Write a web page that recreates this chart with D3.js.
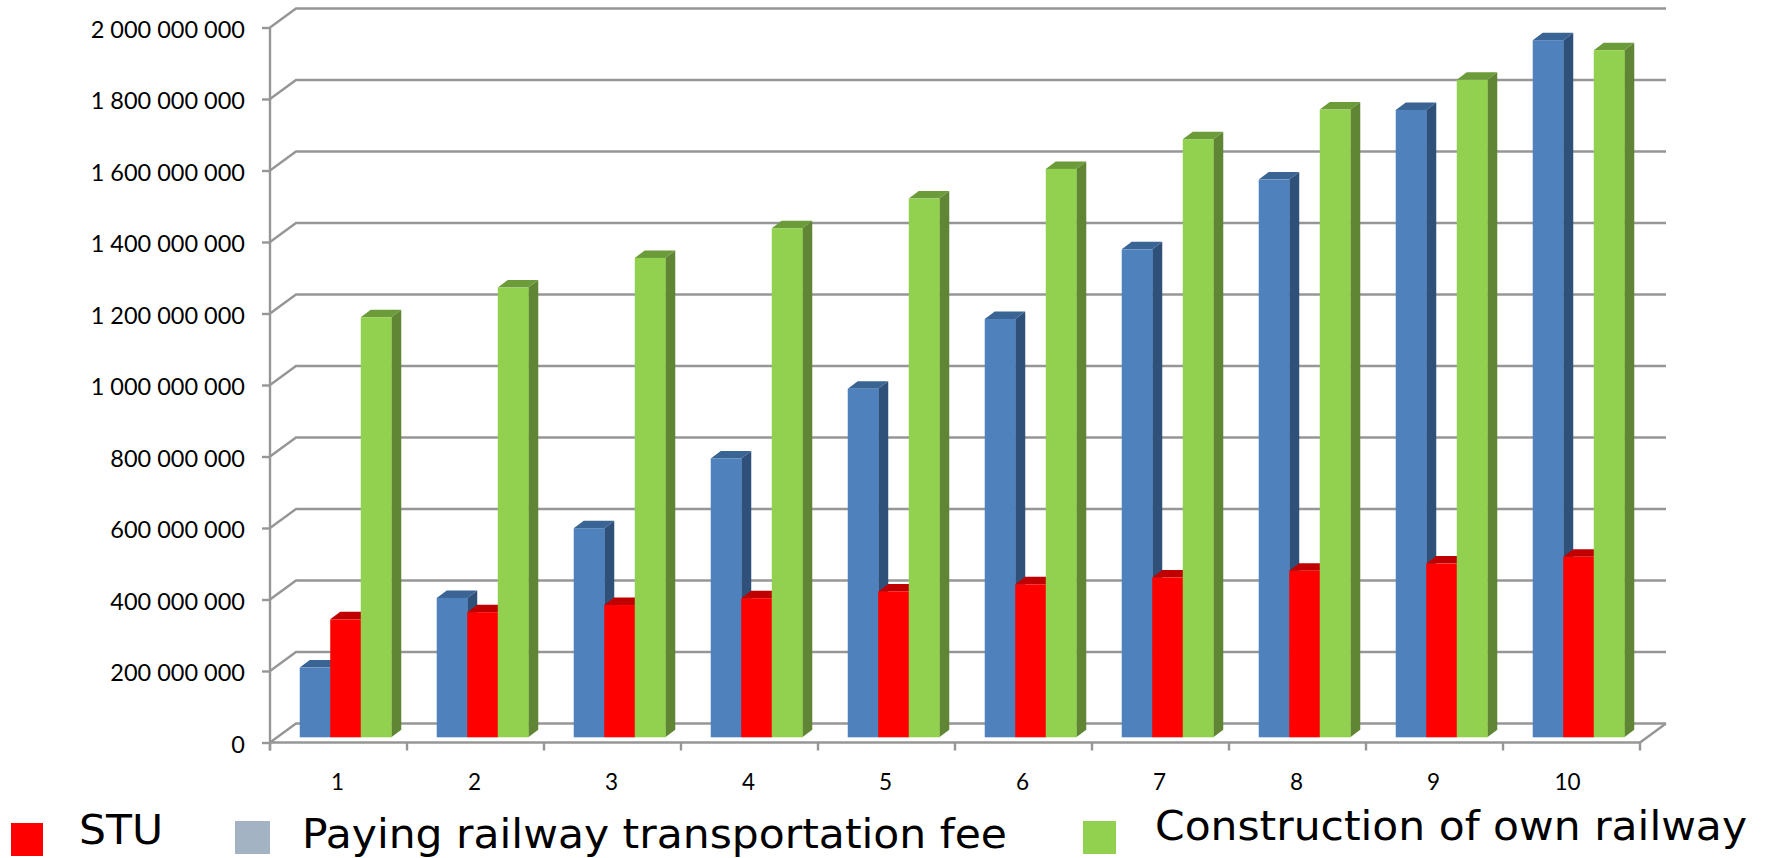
<!DOCTYPE html>
<html><head><meta charset="utf-8">
<script src="https://cdnjs.cloudflare.com/ajax/libs/d3/7.8.5/d3.min.js"></script>
<style>html,body{margin:0;padding:0;background:#fff;overflow:hidden}svg{display:block}</style>
</head><body><div id="c"></div>
<script>
const categories = ["1","2","3","4","5","6","7","8","9","10"];
const paying = [195e6,390e6,585e6,780e6,975e6,1170e6,1365e6,1560e6,1755e6,1950e6];
const stu = [330e6,350e6,370e6,389e6,408e6,428e6,447e6,466e6,486e6,505e6];
const construction = [1175e6,1258e6,1341e6,1424e6,1507e6,1590e6,1673e6,1756e6,1839e6,1922e6];
const yTicks = [0,2e8,4e8,6e8,8e8,1e9,1.2e9,1.4e9,1.6e9,1.8e9,2e9];
const seriesColors = [
  {values:paying, front:"#4F81BD", side:"#2F5078", top:"#3A6494"},
  {values:stu, front:"#FF0000", side:"#B80000", top:"#C00000"},
  {values:construction, front:"#92D050", side:"#5F8535", top:"#6C9B3A"}
];
const legendLabels = ["STU","Paying railway transportation fee","Construction of own railway"];
const legendColors = ["#FF0000","#A3B3C4","#92D050"];
const legendSwatchX = [11,235,1083];
const legendSwatchY = [823,821,821];
const legendSwatchW = [32,35,33];
const legendTextX = [79,302,1155];
const legendTextY = [844,848,840];
const legendTextLen = [84,705,592];

const W=1768,H=858, left=270,right=1640,y0=742.5,y2=27.5, depthX=26,depthY=-19;
const svg=d3.select("#c").append("svg").attr("width",W).attr("height",H);
const x=d3.scaleBand().domain(categories).range([left,right]);
const y=d3.scaleLinear().domain([0,2e9]).range([y0,y2]);
const grid="#969696";

const g=svg.append("g").attr("fill","none").attr("stroke",grid).attr("stroke-width",2.4);
g.selectAll("path.grid").data(yTicks).join("path").attr("class","grid")
  .attr("d",v=>`M${left},${y(v)}L${left+depthX},${y(v)+depthY}L${right+depthX},${y(v)+depthY}`);
g.append("path").attr("d",`M${right},${y0}L${right+depthX},${y0+depthY}`);

const barW=x.bandwidth()/4.49, offX=7, offY=5.2, dx=10, dy=7.5;
const series=d3.scaleBand().domain([0,1,2]).range([0,barW*3]);
const groups=svg.selectAll("g.cat").data(categories).join("g").attr("class","cat")
  .attr("transform",d=>`translate(${x(d)+(x.bandwidth()-barW*3)/2+offX},${-offY})`);
seriesColors.forEach((s,i)=>{
  const b=groups.append("g").datum((d,j)=>s.values[j]);
  const X=series(i),w=series.bandwidth();
  b.append("path").attr("fill",s.side).attr("d",v=>`M${X+w},${y(v)}l${dx},${-dy}V${y0-dy}l${-dx},${dy}Z`);
  b.append("path").attr("fill",s.top).attr("d",v=>`M${X},${y(v)}l${dx},${-dy}h${w}l${-dx},${dy}Z`);
  b.append("rect").attr("fill",s.front).attr("x",X).attr("width",w+0.4).attr("y",v=>y(v)).attr("height",v=>y0-y(v));
});

const fmt=v=>d3.format(",")(v).replace(/,/g," ");
const yAxis=d3.axisLeft(y).tickValues(yTicks).tickFormat(fmt).tickSize(8).tickPadding(17);
const ya=svg.append("g").attr("transform",`translate(${left},0)`).call(yAxis);
const xAxis=d3.axisBottom(x).tickSize(0).tickPadding(32);
const xa=svg.append("g").attr("transform",`translate(0,${y0})`).call(xAxis);
xa.selectAll(".tick").attr("transform",d=>`translate(${x(d)+x.bandwidth()/2-(d==="10"?4:1)},0)`);
const xEdges=categories.map(d=>x(d)).concat([right]);
xa.selectAll("line.edge").data(xEdges).join("line").attr("class","edge").attr("x1",d=>d).attr("x2",d=>d).attr("y1",0).attr("y2",8).attr("stroke",grid).attr("stroke-width",2.4);
[ya,xa].forEach(a=>{a.selectAll(".domain,.tick line").attr("stroke",grid).attr("stroke-width",2.4);});
xa.select(".domain").attr("d",`M${left},0H${right}`);
ya.select(".domain").attr("d",`M0,${y2}V${y0+8}`);
ya.selectAll("text").attr("font-family","Lato").attr("font-size",23.5).attr("fill","#000").attr("dy","0.42em");
xa.selectAll("text").attr("font-family","Lato").attr("font-size",22.5).attr("fill","#000");

const lg=svg.selectAll("g.leg").data(legendLabels).join("g").attr("class","leg");
lg.append("rect").attr("x",(d,i)=>legendSwatchX[i]).attr("y",(d,i)=>legendSwatchY[i]).attr("width",(d,i)=>legendSwatchW[i]).attr("height",33).attr("fill",(d,i)=>legendColors[i]);
lg.append("text").attr("x",(d,i)=>legendTextX[i]).attr("y",(d,i)=>legendTextY[i]).text(d=>d)
  .attr("font-family","DejaVu Sans").attr("font-size",40).attr("fill","#000")
  .attr("textLength",(d,i)=>legendTextLen[i]).attr("lengthAdjust","spacingAndGlyphs");
</script></body></html>
